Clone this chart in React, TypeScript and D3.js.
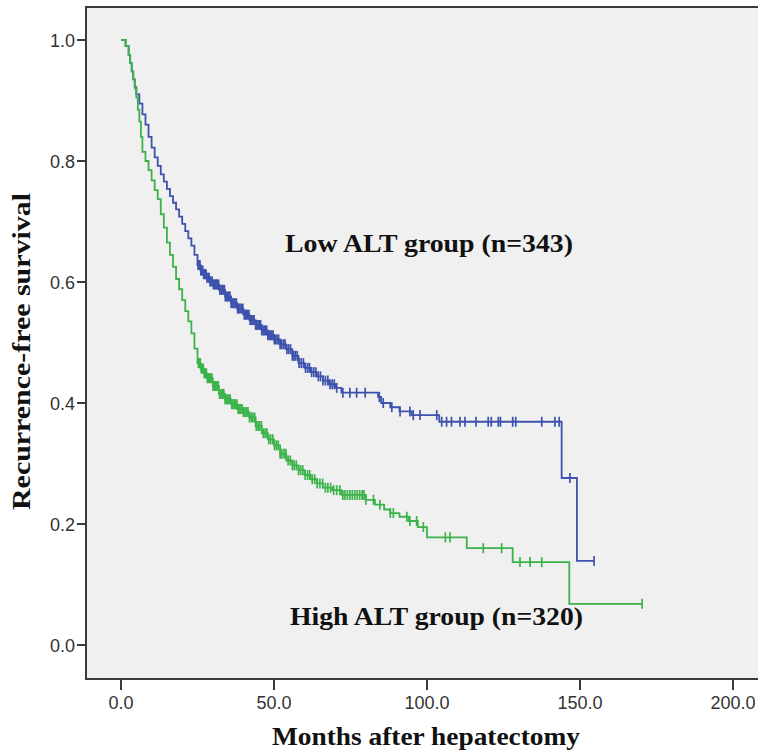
import React from "react";
import * as d3 from "d3";

const xTicks = [0, 50, 100, 150, 200];
const yTicks = [0, 0.2, 0.4, 0.6, 0.8, 1.0];

// Low ALT group (blue) — step times (months) and survival after each step
const lowTimes = [0, 1.5, 2.5, 3, 3.5, 4, 4.5, 5, 6, 7, 8, 9, 10, 11, 12, 13, 14, 15, 16, 17, 18, 19, 20, 21, 22, 23, 24, 25, 26, 27, 28, 29, 30, 32, 34, 36, 38, 40, 42, 44, 46, 48, 50, 52, 54, 56, 58, 60, 62, 64, 66, 68, 70, 72, 84, 85, 88, 91, 95, 104, 144, 149];
const lowSurv = [1.0, 0.99, 0.975, 0.962, 0.948, 0.935, 0.922, 0.91, 0.895, 0.877, 0.86, 0.84, 0.822, 0.806, 0.792, 0.778, 0.766, 0.754, 0.742, 0.731, 0.72, 0.708, 0.696, 0.684, 0.672, 0.66, 0.645, 0.628, 0.619, 0.613, 0.607, 0.601, 0.596, 0.587, 0.576, 0.565, 0.556, 0.546, 0.537, 0.529, 0.52, 0.512, 0.505, 0.497, 0.489, 0.478, 0.466, 0.458, 0.451, 0.444, 0.437, 0.431, 0.425, 0.417, 0.41, 0.4, 0.393, 0.386, 0.38, 0.369, 0.276, 0.139];
const lowEnd = 154.6;
const lowCensor = [25.2, 25.5, 25.8, 26.1, 26.3, 26.7, 27.0, 27.3, 27.5, 27.8, 28.1, 28.5, 28.8, 29.1, 29.4, 29.8, 30.2, 30.6, 30.9, 31.2, 31.5, 31.9, 32.3, 32.7, 33.0, 33.4, 33.8, 34.1, 34.5, 34.9, 35.2, 35.6, 36.0, 36.5, 36.9, 37.3, 37.7, 38.1, 38.5, 38.9, 39.4, 39.8, 40.3, 40.6, 41.0, 41.4, 41.8, 42.2, 42.7, 43.1, 43.5, 44.0, 44.4, 44.8, 45.3, 45.6, 46.0, 46.4, 46.8, 47.2, 47.6, 48.0, 48.4, 48.9, 49.3, 49.7, 50.1, 50.5, 51.0, 51.5, 52.0, 52.5, 53.1, 53.6, 54.2, 54.8, 55.4, 56.0, 56.5, 57.0, 57.6, 58.2, 58.9, 59.6, 60.3, 61.0, 61.6, 62.3, 63.0, 63.7, 64.5, 65.2, 66.0, 66.8, 67.6, 68.3, 69.0, 69.7, 70.5, 72.5, 74.8, 77.0, 79.8, 84.4, 85.7, 88.5, 91.2, 94.4, 95.5, 97.7, 103.2, 104.8, 106.4, 108, 110.8, 112.4, 116, 120, 121, 123.3, 124, 128, 129, 137.5, 141.8, 143.2, 146.7, 154.6];

// High ALT group (green)
const highTimes = [0, 1.5, 2.5, 3, 3.5, 4, 4.5, 5, 5.5, 6, 6.5, 7, 8, 9, 10, 11, 12, 13, 14, 15, 16, 17, 18, 19, 20, 21, 22, 23, 24, 25, 26, 27, 28, 30, 32, 34, 36, 38, 40, 42, 44, 46, 48, 50, 52, 54, 56, 58, 60, 62, 64, 66, 69, 72, 80, 83, 86, 88, 91, 94, 97, 100, 113, 128, 146.5];
const highSurv = [1.0, 0.99, 0.975, 0.962, 0.948, 0.935, 0.92, 0.905, 0.885, 0.865, 0.84, 0.815, 0.8, 0.785, 0.768, 0.752, 0.737, 0.712, 0.69, 0.665, 0.645, 0.625, 0.605, 0.588, 0.57, 0.552, 0.535, 0.515, 0.49, 0.466, 0.457, 0.449, 0.441, 0.428, 0.415, 0.406, 0.398, 0.39, 0.385, 0.376, 0.362, 0.35, 0.34, 0.33, 0.316, 0.305, 0.297, 0.289, 0.281, 0.274, 0.267, 0.26, 0.256, 0.248, 0.24, 0.232, 0.224, 0.218, 0.212, 0.205, 0.195, 0.178, 0.16, 0.137, 0.068];
const highEnd = 170.3;
const highCensor = [25.3, 25.6, 25.9, 26.2, 26.6, 26.9, 27.2, 27.5, 27.9, 28.2, 28.6, 28.9, 29.3, 29.7, 30.1, 30.5, 31.0, 31.4, 31.8, 32.2, 32.7, 33.1, 33.6, 34.0, 34.5, 34.9, 35.3, 35.7, 36.2, 36.6, 37.0, 37.4, 37.9, 38.3, 38.8, 39.2, 39.6, 40.0, 40.5, 41.0, 41.5, 42.0, 42.6, 43.1, 43.7, 44.2, 44.8, 45.3, 45.9, 46.5, 47.1, 47.7, 48.3, 48.9, 49.6, 50.2, 50.8, 51.4, 52.0, 52.6, 53.3, 53.9, 54.6, 55.3, 56.0, 56.6, 57.3, 58.0, 58.7, 59.4, 60.2, 61.0, 61.7, 62.5, 63.3, 64.1, 65.0, 65.9, 66.8, 67.6, 68.5, 69.5, 70.5, 71.5, 72.5, 73.2, 74.0, 74.8, 75.6, 76.4, 77.2, 78.0, 78.8, 79.4, 80.0, 82.5, 84.6, 88, 89, 93.4, 94.4, 96.6, 98.8, 106, 107.5, 118.4, 124.4, 130.4, 133.7, 137.5, 170.3];

const BLUE = "#3d52ac";
const GREEN = "#3cb34a";

const W = 758, H = 751;
const x = d3.scaleLinear().domain([0, 200]).range([121, 733]);
const y = d3.scaleLinear().domain([0, 1]).range([645, 40]);

function survAt(times: number[], surv: number[], t: number) {
  let s = surv[0];
  for (let i = 0; i < times.length; i++) if (times[i] <= t) s = surv[i];
  return s;
}

function stepPath(times: number[], surv: number[], end: number) {
  const pts: [number, number][] = times.map((t, i) => [t, surv[i]]);
  pts.push([end, surv[surv.length - 1]]);
  const line = d3.line<[number, number]>().x(d => x(d[0])).y(d => y(d[1])).curve(d3.curveStepAfter);
  return line(pts) || "";
}

function Curve({ times, surv, end, censor, color }: any) {
  return (
    <g>
      <path d={stepPath(times, surv, end)} fill="none" stroke={color} strokeWidth={1.8} />
      {censor.map((t: number, i: number) => {
        const cy = y(survAt(times, surv, t));
        const cx = x(t);
        return <line key={i} x1={cx} x2={cx} y1={cy - 5} y2={cy + 5} stroke={color} strokeWidth={1.7} />;
      })}
    </g>
  );
}

export default function App() {
  const left = 86, top = 7, bottom = 679;
  return (
    <svg width={W} height={H} style={{ position: "absolute", left: 0, top: 0, background: "#fff" }}>
      <rect x={left} y={top} width={W - left + 20} height={bottom - top} fill="#f0f0f0" stroke="#3a3a3a" strokeWidth={2} />
      {yTicks.map(v => (
        <g key={v}>
          <line x1={77} x2={left} y1={y(v)} y2={y(v)} stroke="#3a3a3a" strokeWidth={2} />
          <text x={75} y={y(v) + 6.5} textAnchor="end" fontFamily="Liberation Sans, Arial, sans-serif" fontSize={18} fill="#333">{v.toFixed(1)}</text>
        </g>
      ))}
      {xTicks.map(v => (
        <g key={v}>
          <line x1={x(v)} x2={x(v)} y1={bottom} y2={690} stroke="#3a3a3a" strokeWidth={2} />
          <text x={x(v)} y={709} textAnchor="middle" fontFamily="Liberation Sans, Arial, sans-serif" fontSize={18} fill="#333">{v.toFixed(1)}</text>
        </g>
      ))}
      <Curve times={lowTimes} surv={lowSurv} end={lowEnd} censor={lowCensor} color={BLUE} />
      <Curve times={highTimes} surv={highSurv} end={highEnd} censor={highCensor} color={GREEN} />
      <text x={285} y={252} fontFamily="Liberation Serif, Times New Roman, serif" fontWeight="bold" fontSize={25} textLength={288} lengthAdjust="spacingAndGlyphs" fill="#111">Low ALT group (n=343)</text>
      <text x={290} y={625} fontFamily="Liberation Serif, Times New Roman, serif" fontWeight="bold" fontSize={25} textLength={293} lengthAdjust="spacingAndGlyphs" fill="#111">High ALT group (n=320)</text>
      <text x={272} y={745} fontFamily="Liberation Serif, Times New Roman, serif" fontWeight="bold" fontSize={25} textLength={308} lengthAdjust="spacingAndGlyphs" fill="#111">Months after hepatectomy</text>
      <text transform="translate(30,510) rotate(-90)" x={0} y={0} fontFamily="Liberation Serif, Times New Roman, serif" fontWeight="bold" fontSize={25} textLength={317} lengthAdjust="spacingAndGlyphs" fill="#111">Recurrence-free survival</text>
    </svg>
  );
}
